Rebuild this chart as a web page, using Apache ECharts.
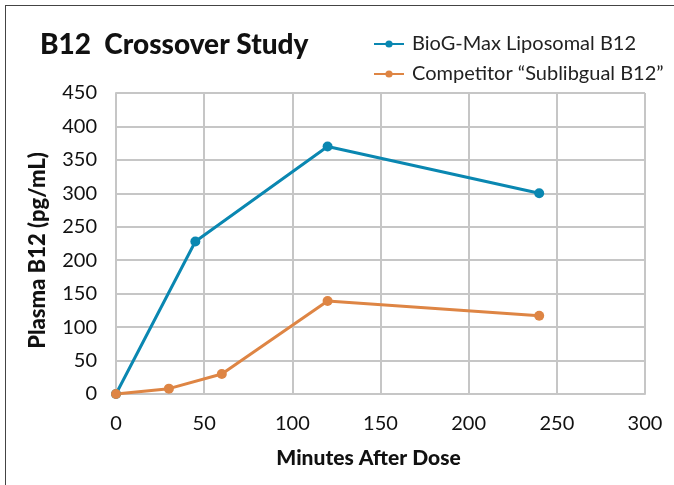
<!DOCTYPE html>
<html>
<head>
<meta charset="utf-8">
<script src="https://cdn.jsdelivr.net/npm/echarts@6/dist/echarts.min.js"></script>
<style>
  html, body { margin: 0; padding: 0; background: #fff; }
  #frame { position: absolute; left: 5px; top: 5px; width: 669px; height: 480px;
           border-top: 1.5px solid #444; border-left: 1.5px solid #444; }
  #chart { position: absolute; left: 0; top: 0; width: 674px; height: 485px; }
</style>
</head>
<body>
<div id="frame"></div>
<div id="chart"></div>
<script>
// 数据：分钟 / 血浆 B12 浓度
const seriesNames = ['BioG-Max Liposomal B12', 'Competitor \u201cSublibgual B12\u201d']
const bioMinutes = [0, 45, 120, 240]
const bioValues = [0, 228, 370, 300]
const compMinutes = [0, 30, 60, 120, 240]
const compValues = [0, 8, 30, 139, 117]
const colors = ['#0A87B1', '#DE8544']

const FONT = 'Lato'

let toPairs = (xs, ys) => xs.map((x, i) => [x, ys[i]])

let chart = echarts.init(document.getElementById('chart'))

let lineSeries = (name, data, color) => ({
  name: name,
  type: 'line',
  data: data,
  symbol: 'circle',
  symbolSize: 10,
  lineStyle: { color: color, width: 3 },
  itemStyle: { color: color },
  animation: false
})

chart.setOption({
  textStyle: { fontFamily: FONT },
  title: {
    text: 'B12  Crossover Study',
    left: 35,
    top: 26,
    textStyle: { fontFamily: FONT, fontSize: 28, fontWeight: 900, color: '#111' }
  },
  legend: {
    orient: 'vertical',
    left: 368,
    top: 29,
    itemWidth: 30,
    itemHeight: 9,
    itemGap: 10,
    textStyle: { fontFamily: FONT, fontSize: 20, color: '#222', padding: [0, 0, 0, 3] },
    data: seriesNames
  },
  grid: { left: 116, right: 29, top: 93, bottom: 91 },
  xAxis: {
    type: 'value',
    min: 0,
    max: 300,
    interval: 50,
    name: 'Minutes After Dose',
    nameLocation: 'middle',
    nameGap: 54,
    nameTextStyle: { fontFamily: FONT, fontSize: 21, fontWeight: 900, color: '#111', padding: [0, 24, 0, 0] },
    axisLine: { show: true, lineStyle: { color: '#C6C6C6', width: 2 } },
    axisTick: { show: false },
    axisLabel: { fontSize: 20, color: '#111', margin: 20 },
    splitLine: { show: true, lineStyle: { color: '#C6C6C6', width: 2 } }
  },
  yAxis: {
    type: 'value',
    min: 0,
    max: 450,
    interval: 50,
    name: 'Plasma B12 (pg/mL)',
    nameLocation: 'middle',
    nameGap: 67,
    nameRotate: 90,
    nameTextStyle: { fontFamily: FONT, fontSize: 22, fontWeight: 900, color: '#111', padding: [0, 14, 0, 0] },
    axisLine: { show: true, lineStyle: { color: '#C6C6C6', width: 2 } },
    axisTick: { show: false },
    axisLabel: { fontSize: 20, color: '#111', margin: 19 },
    splitLine: { show: true, lineStyle: { color: '#C6C6C6', width: 2 } }
  },
  series: [
    lineSeries(seriesNames[0], toPairs(bioMinutes, bioValues), colors[0]),
    lineSeries(seriesNames[1], toPairs(compMinutes, compValues), colors[1])
  ]
})
</script>
</body>
</html>
